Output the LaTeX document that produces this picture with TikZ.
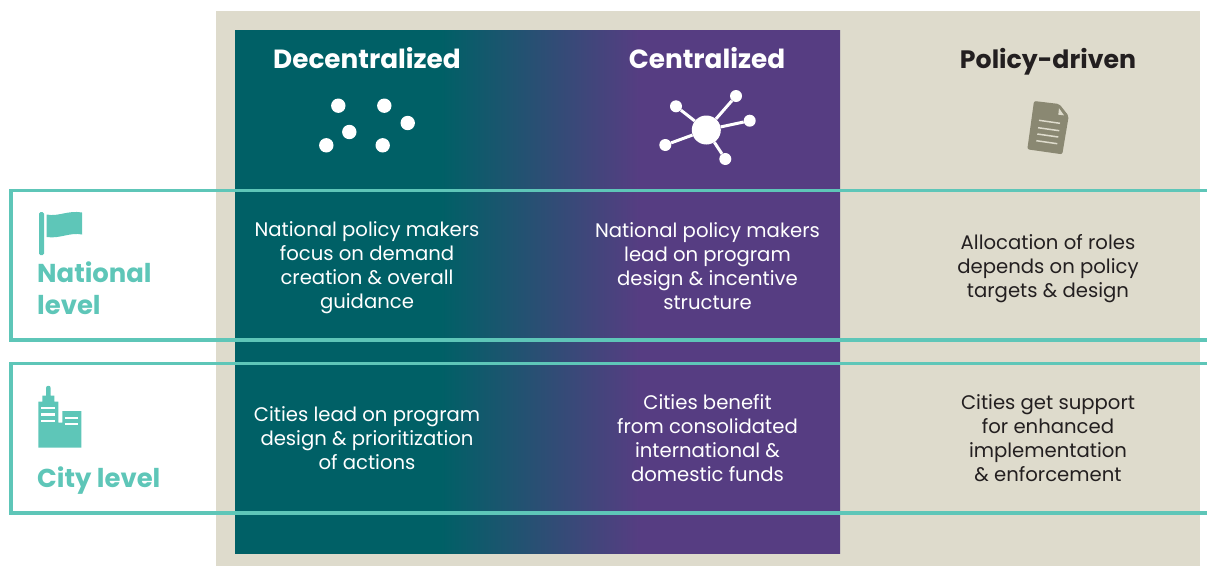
\documentclass[tikz,border=0pt]{standalone}
\usepackage{fontspec}
\setmainfont{Poppins}
\definecolor{beige}{HTML}{DEDBCC}
\definecolor{tealdk}{HTML}{006066}
\definecolor{purp}{HTML}{563D82}
\definecolor{mint}{HTML}{5EC6B8}
\definecolor{docgrey}{HTML}{8A8872}
\definecolor{inkdk}{HTML}{231F20}
\pgfdeclarehorizontalshading{tealpurple}{100bp}{color(0bp)=(tealdk); color(42bp)=(tealdk); color(58.5bp)=(purp); color(100bp)=(purp)}
\tikzset{
  bodytxt/.style={align=center,font=\fontsize{19.65}{24}\selectfont,text=white,inner sep=0pt},
  policytxt/.style={bodytxt,text=inkdk},
  headtxt/.style={anchor=base,font=\fontsize{26.3}{30}\selectfont\bfseries,text=white,inner sep=0pt},
  leveltxt/.style={align=left,anchor=west,font=\fontsize{25.9}{32}\selectfont\bfseries,text=mint,inner sep=0pt},
  band/.style={draw=mint,line width=3.6pt,miter limit=10},
  dotc/.style={circle,fill=white,inner sep=0pt,minimum size=#1},
  spoke/.style={draw=white,line width=3pt}
}
\begin{document}
\begin{tikzpicture}[x=1pt,y=-1pt]
\useasboundingbox (0,0) rectangle (1207,566);
\fill[beige] (216,11) rectangle (1200,566);
\path[shading=tealpurple] (235,30) rectangle (840,553.7);
% bands
\draw[band] (1207,190.5) -- (10.7,190.5) -- (10.7,340) -- (1207,340);
\draw[band] (1207,363.5) -- (10.7,363.5) -- (10.7,513) -- (1207,513);
% headings
\node[headtxt] (h1) at (367,68) {Decentralized};
\node[headtxt] (h2) at (707,68) {Centralized};
\node[headtxt,text=inkdk,font=\fontsize{25.2}{30}\selectfont\bfseries] (h3) at (1048,68) {Policy-driven};
% decentralized dots
\node[dotc=14.4pt] (d1) at (338.3,105.7) {};
\node[dotc=14.4pt] (d2) at (384.3,105.7) {};
\node[dotc=14.4pt] (d3) at (407.7,123) {};
\node[dotc=14.4pt] (d4) at (349.3,132) {};
\node[dotc=14.4pt] (d5) at (326.3,145.3) {};
\node[dotc=14.4pt] (d6) at (382.7,145.3) {};
% centralized network
\node[dotc=29pt] (hub) at (706.3,130) {};
\node[dotc=12pt] (c1) at (676,106.3) {};
\node[dotc=12pt] (c2) at (736,96) {};
\node[dotc=12pt] (c3) at (749.7,120.7) {};
\node[dotc=12pt] (c4) at (665.3,145) {};
\node[dotc=12pt] (c5) at (725.3,159) {};
\foreach \n in {c1,c2,c3,c4,c5} \draw[spoke] (hub) -- (\n);
% document icon
\fill[docgrey,rounded corners=2pt] (1034,101) -- (1059.3,104) -- (1068.7,116) -- (1062.3,154.3) -- (1027.3,149.3) -- cycle;
\fill[beige] (1059,108.3) -- (1064,115.3) -- (1058.3,114.7) -- cycle;
\draw[beige,line width=1.5pt] (1039,120.3) -- (1060,123.3) (1038,127.7) -- (1059.3,130.7) (1037.3,134) -- (1058.3,137) (1036.3,140.7) -- (1057.3,143.7);
% flag icon
\fill[mint,rounded corners=1.5pt] (39,212) rectangle (44,255);
\fill[mint] (46.7,214.5) .. controls (58,217) and (68,210) .. (82,212.5) -- (82,234.5) .. controls (70,232) and (60,239) .. (46.7,237) -- cycle;
\node[leveltxt] (nat) at (37,288) {National\\level};
% city icon
\fill[mint] (38.3,447.7) -- (38.3,401.7) -- (42.3,401.7) -- (42.3,395.7) -- (46,395.7) -- (46,388) .. controls (46,385) and (50.7,385) .. (50.7,388) -- (50.7,395.7) -- (54.3,395.7) -- (54.3,401.7) -- (58.3,401.7) -- (58.3,422.5) -- (62.3,422.5) -- (62.3,411) -- (81.3,411) -- (81.3,447.7) -- cycle;
\draw[white,line width=2.2pt] (41.3,408.3) -- (55,408.3) (41.3,414.5) -- (55,414.5) (41.3,421) -- (55,421) (64.7,418) -- (78.3,418) (64.7,424.3) -- (78.3,424.3);
\node[leveltxt] (cty) at (37,481) {City level};
% body text
\node[bodytxt] (a1) at (367,267.5) {National policy makers\\focus on demand\\creation \& overall\\guidance};
\node[bodytxt] (a2) at (707.5,266) {National policy makers\\lead on program\\design \& incentive\\structure};
\node[policytxt] (a3) at (1048,269) {Allocation of roles\\depends on policy\\targets \& design};
\node[bodytxt] (b1) at (367,438) {Cities lead on program\\design \& prioritization\\of actions};
\node[bodytxt] (b2) at (707.5,438) {Cities benefit\\from consolidated\\international \&\\domestic funds};
\node[policytxt] (b3) at (1048,438) {Cities get support\\for enhanced\\implementation\\\& enforcement};
\end{tikzpicture}
\end{document}
